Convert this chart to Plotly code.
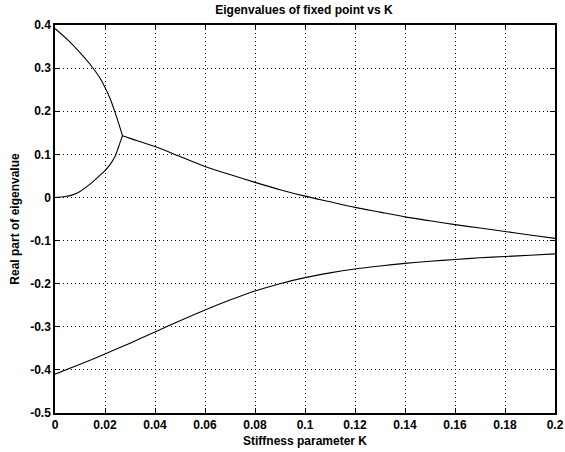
import plotly.graph_objects as go

# Upper real branch (before merge)
k_up = [0, 0.005, 0.01, 0.014, 0.018, 0.02, 0.022, 0.024, 0.026, 0.027]
re_up = [0.392, 0.366, 0.336, 0.309, 0.277, 0.255, 0.23, 0.198, 0.162, 0.143]

# Lower real branch (before merge)
k_low = [0, 0.004, 0.007, 0.01, 0.014, 0.017, 0.02, 0.022, 0.024, 0.025, 0.026, 0.027]
re_low = [0.0, 0.002, 0.006, 0.014, 0.031, 0.046, 0.062, 0.076, 0.095, 0.11, 0.127, 0.143]

# Complex pair real part (after merge)
k_cplx = [0.027, 0.03, 0.04, 0.05, 0.06, 0.07, 0.08, 0.09, 0.1, 0.11, 0.12, 0.13,
          0.14, 0.15, 0.16, 0.17, 0.18, 0.19, 0.2]
re_cplx = [0.143, 0.137, 0.118, 0.095, 0.072, 0.053, 0.035, 0.018, 0.003, -0.01,
           -0.023, -0.034, -0.045, -0.054, -0.063, -0.071, -0.079, -0.087, -0.095]

# Third eigenvalue
k_third = [0, 0.01, 0.02, 0.03, 0.04, 0.05, 0.06, 0.07, 0.08, 0.09, 0.1, 0.11,
           0.12, 0.13, 0.14, 0.15, 0.16, 0.17, 0.18, 0.19, 0.2]
re_third = [-0.41, -0.387, -0.363, -0.338, -0.312, -0.286, -0.261, -0.238, -0.217,
            -0.2, -0.186, -0.175, -0.166, -0.159, -0.153, -0.148, -0.144, -0.14,
            -0.137, -0.134, -0.131]

x_ticks = [0, 0.02, 0.04, 0.06, 0.08, 0.1, 0.12, 0.14, 0.16, 0.18, 0.2]
x_labels = ["0", "0.02", "0.04", "0.06", "0.08", "0.1", "0.12", "0.14", "0.16", "0.18", "0.2"]
y_ticks = [0.4, 0.3, 0.2, 0.1, 0, -0.1, -0.2, -0.3, -0.4, -0.5]
y_labels = ["0.4", "0.3", "0.2", "0.1", "0", "-0.1", "-0.2", "-0.3", "-0.4", "-0.5"]

fig = go.Figure()
line = dict(color="black", width=1.1, shape="spline", smoothing=0.7)
for xs, ys in [(k_up, re_up), (k_low, re_low), (k_cplx, re_cplx), (k_third, re_third)]:
    fig.add_trace(go.Scatter(x=xs, y=ys, mode="lines", line=line, showlegend=False,
                             hoverinfo="skip"))

font = dict(family="Liberation Sans, Arial, sans-serif", size=12, color="black",
            weight="bold")
axis_common = dict(showgrid=True, gridcolor="black", gridwidth=1, griddash="1px,3px",
                   zeroline=False, showline=True, linecolor="black", linewidth=1.5,
                   mirror="ticks", ticks="inside", ticklen=5, tickcolor="black",
                   tickfont=font, automargin=False)

fig.update_layout(
    width=565, height=452,
    margin=dict(l=55, r=10, t=25, b=39),
    paper_bgcolor="white", plot_bgcolor="white",
    font=font,
    title=dict(text="Eigenvalues of fixed point vs K", x=0.538, xanchor="center",
               y=0.988, yanchor="top", font=font),
    xaxis=dict(range=[0, 0.2], tickvals=x_ticks, ticktext=x_labels,
               title=dict(text="Stiffness parameter K", standoff=5, font=font), **axis_common),
    yaxis=dict(range=[-0.5, 0.4], tickvals=y_ticks, ticktext=y_labels,
               title=dict(text="Real part of eigenvalue", standoff=8, font=font), **axis_common),
)

fig.write_html("out.html")
